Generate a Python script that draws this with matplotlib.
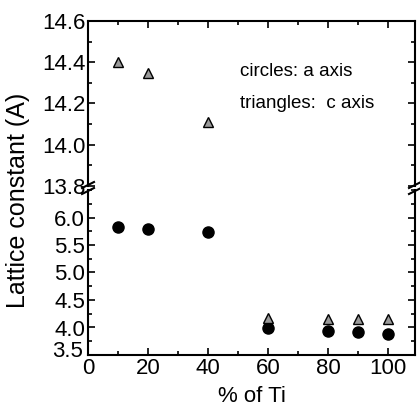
import numpy as np
import matplotlib
matplotlib.use("Agg")
import matplotlib.pyplot as plt
import matplotlib.transforms as mtransforms
from matplotlib.ticker import MultipleLocator

plt.rcParams["font.family"] = ["Liberation Sans", "DejaVu Sans"]

# % Ti and lattice constants (Angstrom)
ti_pct = [10, 20, 40, 60, 80, 90, 100]
a_axis = [5.83, 5.79, 5.74, 3.99, 3.94, 3.92, 3.89]
c_axis = [14.40, 14.35, 14.11, 4.17, 4.15, 4.15, 4.15]

W, H = 420, 412
fig = plt.figure(figsize=(W / 100, H / 100), dpi=100)
left, right = 88 / W, 415 / W
ax_hi = fig.add_axes([left, 1 - 186 / H, right - left, (186 - 21) / H])
ax_lo = fig.add_axes([left, 1 - 355 / H, right - left, (355 - 190) / H])

tick_fs = 16
for ax in (ax_hi, ax_lo):
    ax.set_xlim(0, 109)
    for sp in ax.spines.values():
        sp.set_linewidth(1.5)
    ax.tick_params(which="both", direction="in", top=True, right=True,
                   labelsize=tick_fs, width=1.2, pad=2)
    ax.tick_params(which="major", length=5)
    ax.tick_params(which="minor", length=3)
    ax.xaxis.set_major_locator(MultipleLocator(20))
    ax.xaxis.set_minor_locator(MultipleLocator(10))
    # circles: a axis, triangles: c axis
    ax.plot(ti_pct, a_axis, "o", ms=8, color="black", ls="none")
    ax.plot(ti_pct, c_axis, "^", ms=7.5, mfc="#9a9a9a", mec="black",
            mew=1.0, ls="none")

ax_hi.set_ylim(13.8, 14.6)
ax_hi.yaxis.set_major_locator(MultipleLocator(0.2))
ax_hi.yaxis.set_minor_locator(MultipleLocator(0.1))
ax_hi.spines["bottom"].set_visible(False)
ax_hi.tick_params(which="both", bottom=False, labelbottom=False)

ax_lo.set_ylim(3.5, 6.5)
ax_lo.set_yticks([3.5, 4.0, 4.5, 5.0, 5.5, 6.0])
ax_lo.yaxis.set_minor_locator(MultipleLocator(0.25))
ax_lo.spines["top"].set_visible(False)
ax_lo.tick_params(which="both", top=False)
ax_lo.set_xlabel("% of Ti", fontsize=16, labelpad=5)

# lift the lowest y label so it clears the "0" below it
fig.canvas.draw()
lbl = ax_lo.get_yticklabels()[0]
lbl.set_transform(lbl.get_transform() +
                  mtransforms.ScaledTranslation(-2 / 100, 6 / 100, fig.dpi_scale_trans))

fig.text(18 / W, 1 - 200 / H, "Lattice constant (A)", rotation=90,
         fontsize=18, ha="center", va="center")

ax_hi.text(240 / W, 1 - 72 / H, "circles: a axis", fontsize=13.5,
           transform=fig.transFigure, va="center")
ax_hi.text(240 / W, 1 - 103 / H, "triangles:  c axis", fontsize=13.5,
           transform=fig.transFigure, va="center")

# axis break marks on both spines
yb = 1 - 188 / H
for xs in (left, right):
    for dy in (-3 / H, 3 / H):
        fig.add_artist(plt.Line2D([xs - 6 / W, xs + 6 / W],
                                  [yb + dy - 3 / H, yb + dy + 3 / H],
                                  color="black", lw=1.5,
                                  transform=fig.transFigure))

fig.savefig("out.png", dpi=100)
